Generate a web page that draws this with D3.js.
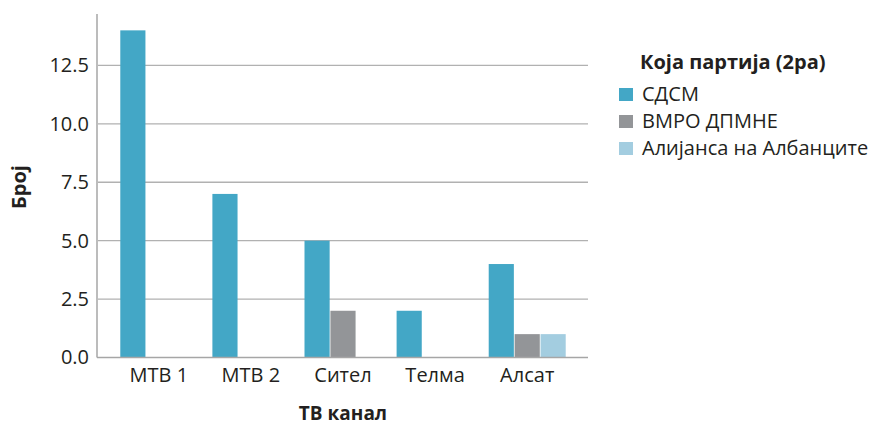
<!DOCTYPE html>
<html><head><meta charset="utf-8">
<script src="https://cdn.jsdelivr.net/npm/d3@7"></script>
<style>body{margin:0;background:#fff}svg{display:block}text{font-family:"Open Sans",sans-serif;fill:#231f20}</style>
</head><body><svg id="c" width="880" height="426"></svg>
<script>
const categories = ["МТВ 1","МТВ 2","Сител","Телма","Алсат"];
const seriesNames = ["СДСМ","ВМРО ДПМНЕ","Алијанса на Албанците"];
const sdsm = [14, 7, 5, 2, 4];
const vmro = [null, null, 2, null, 1];
const alijansa = [null, null, null, null, 1];
const yTicks = [0, 2.5, 5, 7.5, 10, 12.5];
const colors = ["#43a7c6","#939598","#a3cde0"];
const seriesData = [sdsm, vmro, alijansa];

const svg = d3.select("#c");
const L = 98, R = 588, T = 14, B = 357.5;
const y = d3.scaleLinear().domain([0, 14.7]).range([B, T]);
const x0 = d3.scaleBand().domain(categories).range([L, R]).paddingInner(0).paddingOuter(0.16);
const groupW = 77;
const x1 = d3.scaleBand().domain(seriesNames).range([0, groupW]).paddingInner(0.03);

// gridlines
svg.append("g").selectAll("line").data(yTicks.filter(d=>d>0)).join("line")
  .attr("x1", L).attr("x2", R).attr("y1", d=>y(d)).attr("y2", d=>y(d))
  .attr("stroke", "#b1b1b1").attr("stroke-width", 1.3);

// bars
const off = (x0.bandwidth() - groupW) / 2;
seriesData.forEach((vals, si) => {
  svg.append("g").selectAll("rect")
    .data(categories.map((c, i) => ({c, v: vals[i]})).filter(d => d.v != null))
    .join("rect")
    .attr("x", d => x0(d.c) + off + x1(seriesNames[si]))
    .attr("width", x1.bandwidth())
    .attr("y", d => y(d.v))
    .attr("height", d => B - y(d.v))
    .attr("fill", colors[si]);
});

// axes lines
svg.append("line").attr("x1", L-1).attr("x2", L-1).attr("y1", T).attr("y2", B)
  .attr("stroke", "#a6a6a6").attr("stroke-width", 1.5);
svg.append("line").attr("x1", L-1).attr("x2", R).attr("y1", B).attr("y2", B)
  .attr("stroke", "#a6a6a6").attr("stroke-width", 1.5);

// y tick labels
const yAxis = d3.axisLeft(y).tickValues(yTicks).tickFormat(d3.format(".1f")).tickSize(0).tickPadding(8);
const ya = svg.append("g").attr("transform", `translate(${L-1},0)`).call(yAxis);
ya.select(".domain").remove();
ya.selectAll("text").style("font-family", '"Open Sans",sans-serif').style("font-size", "20px").attr("fill", "#231f20");

// x tick labels
const xAxis = d3.axisBottom(x0).tickSize(0).tickPadding(10);
const xa = svg.append("g").attr("transform", `translate(0,${B})`).call(xAxis);
xa.select(".domain").remove();
xa.selectAll("text").style("font-family", '"Open Sans",sans-serif').style("font-size", "20px").attr("fill", "#231f20");

// titles
svg.append("text").attr("x", 343).attr("y", 420).attr("text-anchor", "middle")
  .style("font-size", "19px").style("font-weight", "bold").text("ТВ канал");
svg.append("text").attr("transform", "translate(26,187) rotate(-90)").attr("text-anchor", "middle")
  .style("font-size", "20px").style("font-weight", "bold").text("Број");

// legend
svg.append("text").attr("x", 640).attr("y", 69).style("font-size", "20px").style("font-weight", "bold").text("Која партија (2ра)");
seriesNames.forEach((s, i) => {
  const yy = 88 + i * 27;
  svg.append("rect").attr("x", 619).attr("y", yy).attr("width", 14).attr("height", 13).attr("fill", colors[i]);
  svg.append("text").attr("x", 642).attr("y", yy + 13).style("font-size", "20px").text(s);
});
</script></body></html>
